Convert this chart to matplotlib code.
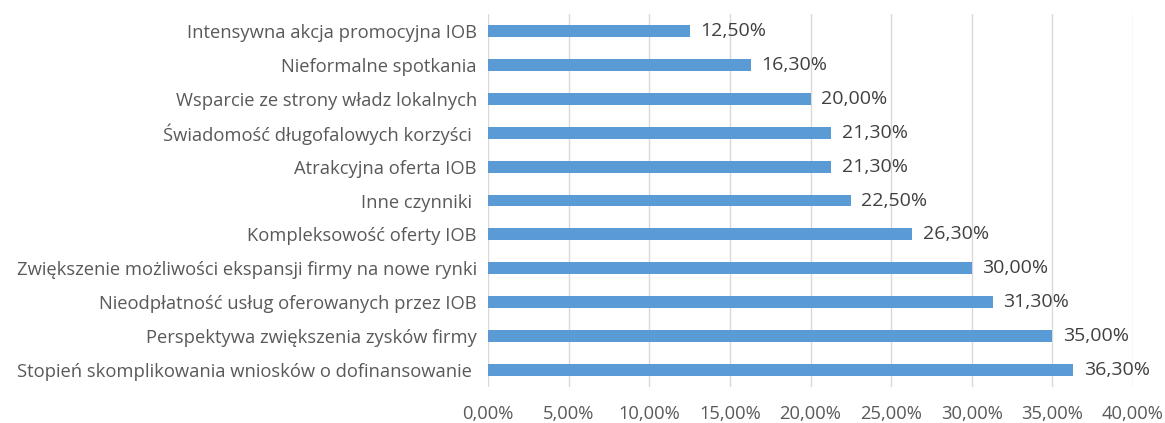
import matplotlib
matplotlib.use('Agg')
import matplotlib.pyplot as plt
from matplotlib.ticker import FuncFormatter

# ── DATA ─────────────────────────────────────────────────────────────────────
categories = [
    "Stopień skomplikowania wniosków o dofinansowanie ",
    "Perspektywa zwiększenia zysków firmy",
    "Nieodpłatność usług oferowanych przez IOB",
    "Zwiększenie możliwości ekspansji firmy na nowe rynki",
    "Kompleksowość oferty IOB",
    "Inne czynniki ",
    "Atrakcyjna oferta IOB",
    "Świadomość długofalowych korzyści ",
    "Wsparcie ze strony władz lokalnych",
    "Nieformalne spotkania",
    "Intensywna akcja promocyjna IOB",
]
values = [36.3, 35.0, 31.3, 30.0, 26.3, 22.5, 21.3, 21.3, 20.0, 16.3, 12.5]
x_ticks = [0, 5, 10, 15, 20, 25, 30, 35, 40]

# ── STYLE ────────────────────────────────────────────────────────────────────
C_BAR = "#5B9BD5"
C_TEXT = "#595959"
C_GRID = "#D9D9D9"
FONT = ["Open Sans", "DejaVu Sans"]

plt.rcParams["font.family"] = FONT


def pct(v):
    return f"{v:.2f}%".replace(".", ",")


fig = plt.figure(figsize=(11.65, 4.23), dpi=100)
fig.patch.set_facecolor("white")
ax = fig.add_axes([488 / 1165, 1 - 387 / 423, (1133 - 488) / 1165, (387 - 14) / 423])

ypos = list(range(len(categories)))
ax.barh(ypos, values, height=0.35, color=C_BAR, zorder=3)

for y, v in zip(ypos, values):
    ax.text(v + 0.65, y, pct(v), va="center", ha="left",
            fontsize=14, color="#404040")

ax.set_xlim(0, 40)
ax.set_ylim(-0.5, len(categories) - 0.5)
ax.set_xticks(x_ticks)
ax.xaxis.set_major_formatter(FuncFormatter(lambda v, _: pct(v)))
ax.set_yticks(ypos)
ax.set_yticklabels(categories)

ax.tick_params(axis="both", length=0, labelsize=13.2, labelcolor=C_TEXT)
ax.tick_params(axis="x", pad=13)
ax.tick_params(axis="y", pad=8)

ax.grid(axis="x", color=C_GRID, linewidth=1, zorder=0)
for s in ax.spines.values():
    s.set_visible(False)

fig.savefig("out.png", dpi=100, facecolor="white")
